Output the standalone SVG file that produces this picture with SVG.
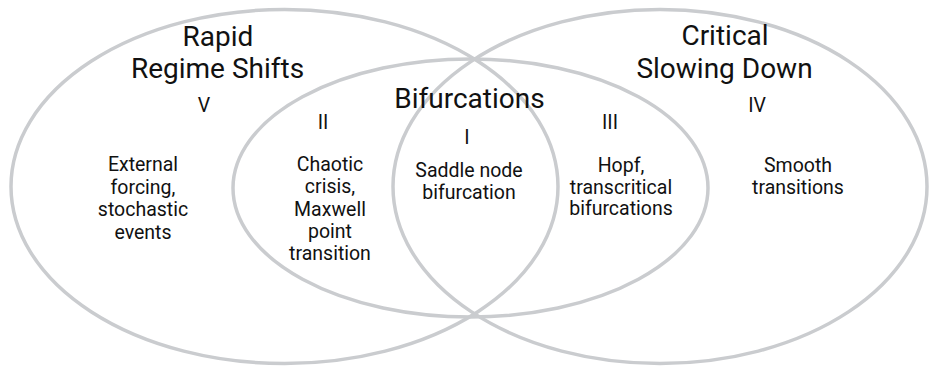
<svg xmlns="http://www.w3.org/2000/svg" width="929" height="367" viewBox="0 0 929 367">
<style>
.ring{fill:none;stroke:#cacccf;stroke-width:3.5}
text{font-family:Roboto,"Liberation Sans",sans-serif;fill:#111;text-anchor:middle}
.t{font-size:28px}
.l{font-size:19.5px}
</style>
<rect width="929" height="367" fill="#fff"/>
<g id="rapid-regime-shifts">
<ellipse class="ring" cx="284.5" cy="186.5" rx="273.5" ry="177"/>
<text class="t" x="218" y="46">Rapid</text>
<text class="t" x="217.5" y="78">Regime Shifts</text>
<text class="l" x="204" y="112">V</text>
<text class="l" x="143" y="171">External</text>
<text class="l" x="143" y="193.5">forcing,</text>
<text class="l" x="143" y="216">stochastic</text>
<text class="l" x="143" y="238.5">events</text>
</g>
<g id="critical-slowing-down">
<ellipse class="ring" cx="660" cy="186.5" rx="267" ry="177"/>
<text class="t" x="725" y="45">Critical</text>
<text class="t" x="724.5" y="78">Slowing Down</text>
<text class="l" x="757" y="112">IV</text>
<text class="l" x="798" y="172">Smooth</text>
<text class="l" x="798" y="194">transitions</text>
</g>
<g id="bifurcations">
<ellipse class="ring" cx="470.5" cy="188" rx="237.5" ry="129"/>
<text class="t" x="469.5" y="108">Bifurcations</text>
<text class="l" x="323" y="129">II</text>
<text class="l" x="330" y="171">Chaotic</text>
<text class="l" x="330" y="193">crisis,</text>
<text class="l" x="330" y="215.5">Maxwell</text>
<text class="l" x="330" y="238">point</text>
<text class="l" x="330" y="260">transition</text>
<text class="l" x="467" y="144">I</text>
<text class="l" x="469" y="177">Saddle node</text>
<text class="l" x="469" y="199">bifurcation</text>
<text class="l" x="610" y="129">III</text>
<text class="l" x="621" y="172">Hopf,</text>
<text class="l" x="621" y="193.5">transcritical</text>
<text class="l" x="621" y="215">bifurcations</text>
</g>
<g id="connectors"/>
</svg>
